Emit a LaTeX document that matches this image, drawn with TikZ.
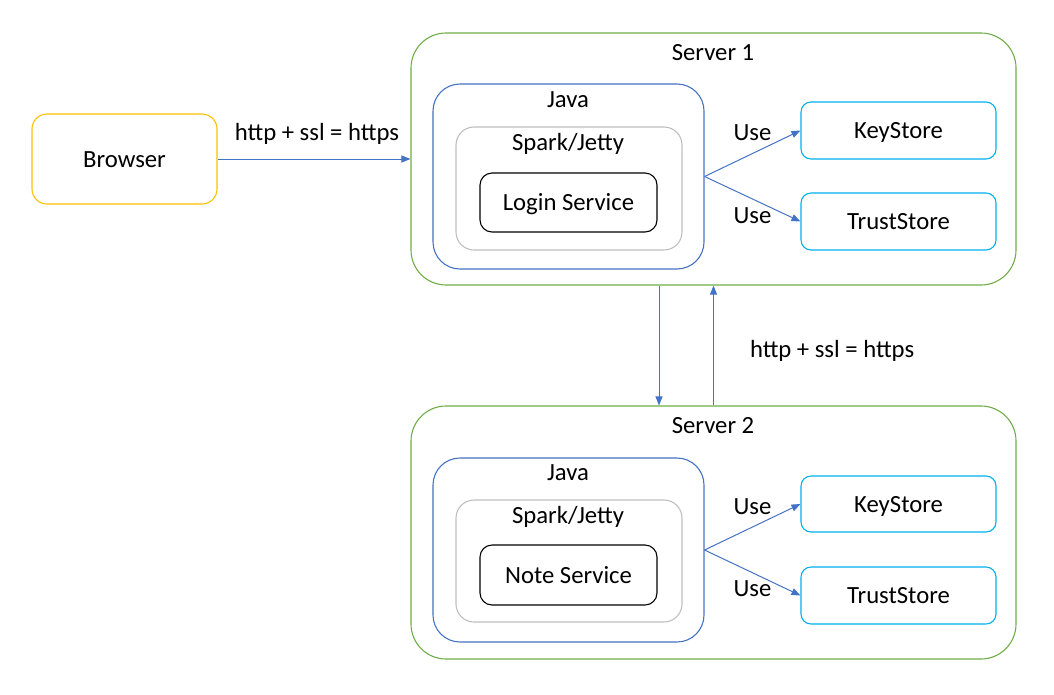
\documentclass[tikz,border=0pt]{standalone}
\usepackage{fontspec}
\setmainfont{Carlito}
\usetikzlibrary{arrows.meta,positioning}

\definecolor{srvgreen}{HTML}{70AD47}
\definecolor{javablue}{HTML}{4472C4}
\definecolor{jettygray}{HTML}{BFBFBF}
\definecolor{browseryellow}{HTML}{FFC000}
\definecolor{storecyan}{HTML}{00B0F0}

\begin{document}
\begin{tikzpicture}[->,>={Triangle[length=9pt,width=7pt]},x=1pt,y=-1pt,
        every node/.style={font=\fontsize{24.7}{30}\selectfont},
        box/.style={draw,line width=1.1pt,inner sep=0pt,rounded corners=#1,
                    text height=16pt,text depth=0pt},
        title/.style={anchor=base,inner sep=0pt},
        lbl/.style={anchor=base,inner sep=0pt,text=black},
        every edge/.style={draw=javablue,line width=1pt}]

  \useasboundingbox (0,0) rectangle (1054,694);

  % browser
  \node[box=15pt,draw=browseryellow,minimum width=185pt,minimum height=90pt] (browser) at (124.5,159) {Browser};

  % server 1
  \node[box=35pt,draw=srvgreen,minimum width=605pt,minimum height=252pt] (srv1) at (713.5,159) {};
  \node[title] (srv1-title) at (713,60) {Server 1};
  \node[box=27pt,draw=javablue,minimum width=271pt,minimum height=185pt] (java1) at (568.5,176.5) {};
  \node[title] (java1-title) at (568,107) {Java};
  \node[box=18pt,draw=jettygray,minimum width=226pt,minimum height=123pt] (spark1) at (569,188.5) {};
  \node[title] (spark1-title) at (568,150) {Spark/Jetty};
  \node[box=12pt,draw=black,minimum width=177pt,minimum height=59pt] (login) at (568.5,202.5) {Login Service};
  \node[box=10pt,draw=storecyan,minimum width=195pt,minimum height=57pt] (key1) at (898.5,130.5) {KeyStore};
  \node[box=10pt,draw=storecyan,minimum width=195pt,minimum height=57pt] (trust1) at (898.5,221.5) {TrustStore};

  % server 2
  \node[box=35pt,draw=srvgreen,minimum width=605pt,minimum height=253pt] (srv2) at (713.5,532.5) {};
  \node[title] (srv2-title) at (713,433) {Server 2};
  \node[box=27pt,draw=javablue,minimum width=271pt,minimum height=184pt] (java2) at (568.5,550) {};
  \node[title] (java2-title) at (568,480) {Java};
  \node[box=18pt,draw=jettygray,minimum width=226pt,minimum height=122pt] (spark2) at (569,561) {};
  \node[title] (spark2-title) at (568,523) {Spark/Jetty};
  \node[box=12pt,draw=black,minimum width=177pt,minimum height=60pt] (note) at (568.5,575) {Note Service};
  \node[box=10pt,draw=storecyan,minimum width=195pt,minimum height=56pt] (key2) at (898.5,504) {KeyStore};
  \node[box=10pt,draw=storecyan,minimum width=195pt,minimum height=57pt] (trust2) at (898.5,595.5) {TrustStore};

  \path (browser) edge node[lbl,xshift=3pt,yshift=19pt] {http + ssl = https} (srv1)
        (java1.east) edge node[lbl,yshift=12.8pt] {Use} (key1.west)
        (java1.east) edge node[lbl,yshift=-24pt] {Use} (trust1.west)
        (java2.east) edge node[lbl,yshift=12.8pt] {Use} (key2.west)
        (java2.east) edge node[lbl,yshift=-24pt] {Use} (trust2.west)
        ([xshift=-54.5pt]srv1.south) edge ([xshift=-54.5pt]srv2.north)
        (srv2.north) edge node[lbl,anchor=base west,xshift=36pt,yshift=-11.5pt] {http + ssl = https} (srv1.south);

\end{tikzpicture}
\end{document}
